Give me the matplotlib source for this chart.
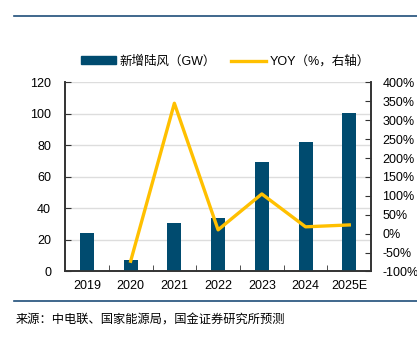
import matplotlib
matplotlib.use("Agg")
import matplotlib.pyplot as plt
from matplotlib.lines import Line2D
from matplotlib.ticker import FuncFormatter

plt.rcParams['font.family'] = ['Liberation Sans', 'Noto Sans CJK SC', 'DejaVu Sans']

years = ['2019', '2020', '2021', '2022', '2023', '2024', '2025E']
onshore_gw = [24.3, 7.3, 31.0, 34.0, 69.3, 82.2, 100.5]
yoy = [None, -73, 345, 10, 105, 18, 23]

bar_color = '#004B6F'
line_color = '#FFC000'

fig = plt.figure(figsize=(4.17, 3.38), dpi=100)
ax1 = fig.add_axes([0.156, 0.197, 0.734, 0.559])
ax2 = ax1.twinx()

x = list(range(len(years)))
ax1.bar(x, onshore_gw, width=0.32, color=bar_color, zorder=3)
ax1.set_ylim(0, 120)
ax1.set_yticks(range(0, 121, 20))
ax1.set_xlim(-0.5, len(years) - 0.5)
ax1.set_xticks(x)
ax1.set_xticklabels(years)
ax1.set_xticks([i + 0.5 for i in range(len(years) - 1)], minor=True)
ax1.tick_params(axis='x', which='major', length=0, pad=6, labelsize=9)
ax1.tick_params(axis='x', which='minor', direction='in', length=4, color='#333333')
ax1.tick_params(axis='y', direction='in', length=4, labelsize=9, pad=10, color='#333333')
ax1.grid(axis='y', color='#dddddd', linewidth=1, zorder=0)

xs = [i for i, v in zip(x, yoy) if v is not None]
ys = [v for v in yoy if v is not None]
ax2.plot(xs, ys, color=line_color, linewidth=2.4, zorder=4)
ax2.set_ylim(-100, 400)
ax2.set_yticks(range(-100, 401, 50))
ax2.yaxis.set_major_formatter(FuncFormatter(lambda v, p: f'{int(v)}%'))
ax2.tick_params(axis='y', direction='in', length=4, labelsize=9, pad=8, color='#333333')

for ax in (ax1, ax2):
    ax.spines['top'].set_visible(False)
    for s in ('left', 'bottom', 'right'):
        ax.spines[s].set_color('#333333')
        ax.spines[s].set_linewidth(1.2)

handles = [
    plt.Rectangle((0, 0), 1, 1, color=bar_color),
    Line2D([0], [0], color=line_color, linewidth=2.4),
]
labels = ['新增陆风（GW）', 'YOY（%，右轴）']
fig.legend(handles, labels, loc='center', bbox_to_anchor=(0.54, 0.818), ncol=2,
           frameon=False, fontsize=9, handlelength=2.8, handleheight=0.6,
           columnspacing=1.2, handletextpad=0.3)

fig.add_artist(Line2D([0.034, 1.0], [0.953, 0.953], color='#1F4E79', linewidth=1.2))
fig.add_artist(Line2D([0.034, 1.0], [0.109, 0.109], color='#1F4E79', linewidth=1.2))
fig.text(0.038, 0.053, '来源：中电联、国家能源局，国金证券研究所预测', fontsize=8.8,
         va='center', ha='left', family=['Noto Sans CJK SC', 'DejaVu Sans'])

fig.savefig('out.png', dpi=100)
